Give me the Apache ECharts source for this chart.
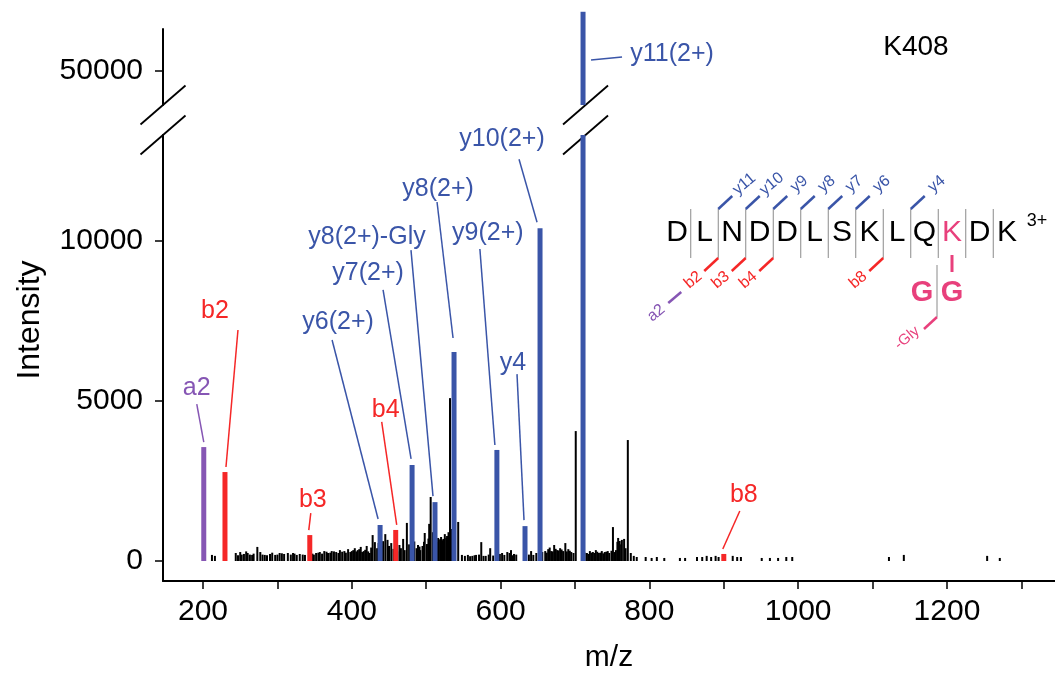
<!DOCTYPE html>
<html>
<head>
<meta charset="utf-8">
<script src="https://cdn.jsdelivr.net/npm/echarts@6/dist/echarts.min.js"></script>
<style>
html, body { margin: 0; padding: 0; background: #fff; }
#chart { width: 1055px; height: 680px; }
</style>
</head>
<body>
<div id="chart"></div>
<script>
// axis ticks
const xTickValues = [200, 300, 400, 500, 600, 700, 800, 900, 1000, 1100, 1200, 1300]
const xLabelValues = [200, 400, 600, 800, 1000, 1200]
const yTicksLower = [0, 5000, 10000]
const yTicksUpper = [50000]

// unassigned peaks [m/z, intensity]
const unassignedPeaks = [
  [212, 190], [216, 160], [244, 250], [247, 180], [250, 280], [252, 200], [255, 220], [258, 300],
  [260, 250], [263, 200], [266, 190], [268, 230], [273, 440], [277, 280], [280, 200], [283, 190],
  [286, 180], [290, 220], [293, 260], [297, 190], [300, 200], [303, 250], [306, 240], [309, 220],
  [314, 250], [318, 200], [321, 250], [323, 230], [326, 190], [330, 220], [334, 200], [337, 190],
  [347, 230], [349, 200], [352, 250], [355, 260], [357, 280], [360, 230], [363, 310], [366, 290],
  [368, 250], [371, 260], [373, 310], [376, 300], [379, 280], [382, 250], [384, 340], [387, 290],
  [390, 310], [392, 260], [395, 370], [398, 280], [400, 310], [402, 340], [404, 400], [406, 300],
  [408, 340], [410, 370], [412, 440], [414, 280], [416, 310], [418, 350], [420, 470], [422, 300],
  [424, 250], [426, 420], [428, 810], [431, 590], [434, 400], [436, 560], [440, 470], [442, 620],
  [445, 840], [448, 660], [450, 470], [453, 560], [456, 380], [461, 300], [464, 500], [466, 400],
  [469, 690], [471, 340], [474, 1190], [477, 520], [484, 610], [487, 400], [489, 500], [491, 450],
  [492, 340], [495, 470], [497, 600], [498, 875], [501, 530], [503, 700], [504, 1160], [506, 2000],
  [509, 900], [514, 600], [516, 720], [517, 660], [519, 690], [520, 750], [522, 650], [523, 690],
  [525, 840], [527, 720], [528, 780], [530, 900], [532, 5090], [534, 1000], [543, 1220], [548, 190],
  [552, 160], [556, 190], [559, 150], [562, 160], [565, 180], [567, 190], [571, 200], [574, 590],
  [577, 160], [580, 160], [584, 200], [586, 400], [590, 170], [599, 220], [602, 250], [605, 190],
  [609, 280], [612, 250], [614, 340], [616, 180], [618, 220], [621, 200], [638, 200], [641, 310],
  [644, 190], [648, 250], [656, 280], [660, 310], [662, 260], [664, 370], [666, 420], [668, 310],
  [670, 300], [672, 500], [674, 380], [676, 340], [678, 330], [680, 400], [682, 360], [684, 310],
  [687, 560], [689, 300], [691, 370], [693, 320], [695, 280], [698, 250], [701, 4060], [710, 200],
  [713, 260], [716, 250], [718, 220], [720, 310], [722, 260], [724, 280], [726, 250], [728, 340],
  [730, 290], [732, 250], [734, 260], [736, 310], [738, 240], [740, 280], [742, 290], [744, 310],
  [746, 250], [749, 320], [751, 1060], [753, 280], [755, 340], [757, 600], [758, 720], [760, 625],
  [762, 520], [763, 660], [766, 690], [768, 400], [771, 3780], [775, 250], [779, 160], [783, 125],
  [795, 125], [803, 95], [810, 125], [820, 95], [841, 95], [848, 95], [864, 125], [871, 125],
  [877, 160], [883, 125], [889, 160], [893, 125], [912, 160], [918, 125], [923, 125], [951, 95],
  [962, 95], [973, 95], [984, 125], [992, 125], [1122, 125], [1142, 190], [1254, 160], [1271, 95]
]

// assigned fragment ions
const yIonNames = ['y6(2+)', 'y7(2+)', 'y8(2+)-Gly', 'y8(2+)', 'y9(2+)', 'y4', 'y10(2+)', 'y11(2+)']
const yIonMz = [438, 481, 511.8, 537.4, 595, 632.8, 653, 710.8]
const yIonInt = [1125, 3000, 1840, 6530, 3470, 1090, 10400, 51850]
const bIonNames = ['b2', 'b3', 'b4', 'b8']
const bIonMz = [229.5, 343.5, 459, 900]
const bIonInt = [2780, 810, 970, 220]
const aIonNames = ['a2']
const aIonMz = [201]
const aIonInt = [3560]

// peptide map
const peptide = ['D', 'L', 'N', 'D', 'D', 'L', 'S', 'K', 'L', 'Q', 'K', 'D', 'K']
const modifiedIndex = 10
const yMapIons = [['y11', 1], ['y10', 2], ['y9', 3], ['y8', 4], ['y7', 5], ['y6', 6], ['y4', 8]]
const bMapIons = [['b2', 1], ['b3', 2], ['b4', 3], ['b8', 7]]

const BLUE = '#3a55a8'
const RED = '#f52727'
const PURPLE = '#8656b4'
const PINK = '#e8407c'
const FONT = '"Liberation Sans", Arial, sans-serif'

// y ranges of the two panels (broken axis)
const lowerMin = -625
const lowerMax = 13312
const upperMin = 48938
const upperMax = 51312
const xMin = 146.2
const xMax = 1345.2

// label position relative to bar top: [labelDx, labelDy, x1, y1, x2, y2]
const labelPos = {
  'a2': [-7, -59, 0, -5, -7, -43],
  'b2': [-10, -161, 1, -5, 13, -142],
  'b3': [3, -35, -1, -5, 1, -22],
  'b4': [-10, -120, 1, -5, -14, -108],
  'b8': [20, -59, -1, -5, 16, -43],
  'y6(2+)': [-42, -203, -2, -6, -48, -185],
  'y7(2+)': [-44, -192, -1, -6, -29, -175],
  'y8(2+)-Gly': [-68, -265, -2, -6, -24, -252],
  'y8(2+)': [-16, -163, -1, -14, -17, -150],
  'y9(2+)': [-9, -217, -2, -5, -17, -201],
  'y4': [-12, -163, -1, -6, -8, -152],
  'y10(2+)': [-38, -89, -3, -6, -21, -69],
  'y11(2+)': [89, -17, 8, -11, 39, -14]
}

const chart = echarts.init(document.getElementById('chart'))

const hiddenX = (grid) => ({
  type: 'value', gridIndex: grid, min: xMin, max: xMax, show: false
})

const plain = (v) => String(v)

function pairs(mz, val) {
  return mz.map((m, i) => [m, val[i]])
}

chart.setOption({
  animation: false,
  grid: [
    { left: 163, right: 0, top: 135, bottom: 99 },
    { left: 163, right: 0, top: 29, height: 76 }
  ],
  xAxis: [
    {
      type: 'value', gridIndex: 0, min: xMin, max: xMax,
      name: 'm/z', nameLocation: 'middle', nameGap: 62,
      nameTextStyle: { fontSize: 30, fontFamily: FONT, color: '#000' },
      splitLine: { show: false },
      axisLine: { onZero: false, lineStyle: { color: '#000', width: 2 } },
      axisTick: { length: 8, customValues: xTickValues, lineStyle: { color: '#000', width: 1.5 } },
      axisLabel: { customValues: xLabelValues, formatter: plain, margin: 16, fontSize: 30, fontFamily: FONT, color: '#000' }
    },
    hiddenX(1),
    hiddenX(0)
  ],
  yAxis: [
    {
      type: 'value', gridIndex: 0, min: lowerMin, max: lowerMax,
      splitLine: { show: false },
      axisLine: { show: true, onZero: false, lineStyle: { color: '#000', width: 2 } },
      axisTick: { show: true, length: 8, customValues: yTicksLower, lineStyle: { color: '#000', width: 1.5 } },
      axisLabel: { customValues: yTicksLower, formatter: plain, margin: 20, fontSize: 30, fontFamily: FONT, color: '#000' }
    },
    {
      type: 'value', gridIndex: 1, min: upperMin, max: upperMax,
      splitLine: { show: false },
      axisLine: { show: true, onZero: false, lineStyle: { color: '#000', width: 2 } },
      axisTick: { show: true, length: 8, customValues: yTicksUpper, lineStyle: { color: '#000', width: 1.5 } },
      axisLabel: { customValues: yTicksUpper, formatter: plain, margin: 20, fontSize: 30, fontFamily: FONT, color: '#000' }
    }
  ],
  series: [
    {
      type: 'bar', xAxisIndex: 0, yAxisIndex: 0, barWidth: 2,
      data: unassignedPeaks, itemStyle: { color: '#000' }
    },
    {
      type: 'bar', xAxisIndex: 2, yAxisIndex: 0, barWidth: 5, barGap: '-100%',
      data: pairs(yIonMz, yIonInt), itemStyle: { color: BLUE }
    },
    {
      type: 'bar', xAxisIndex: 2, yAxisIndex: 0, barWidth: 5, barGap: '-100%',
      data: pairs(bIonMz, bIonInt), itemStyle: { color: RED }
    },
    {
      type: 'bar', xAxisIndex: 2, yAxisIndex: 0, barWidth: 5, barGap: '-100%',
      data: pairs(aIonMz, aIonInt), itemStyle: { color: PURPLE }
    },
    {
      // part of the tallest peak above the axis break
      type: 'custom', xAxisIndex: 1, yAxisIndex: 1, clip: false,
      data: pairs(yIonMz, yIonInt).filter(d => d[1] > upperMin),
      encode: { x: 0, y: 1 },
      renderItem(params, api) {
        const top = api.coord([api.value(0), api.value(1)])
        const base = api.coord([api.value(0), upperMin])
        return {
          type: 'rect',
          shape: { x: top[0] - 2.5, y: top[1], width: 5, height: base[1] - top[1] },
          style: { fill: BLUE }
        }
      }
    }
  ]
})

// ---- annotations, break marks, peptide map ----
const g = []

function txt(x, y, text, size, color, extra, weight) {
  return Object.assign({
    type: 'text', x, y,
    style: {
      text, fill: color, font: (weight ? weight + ' ' : '') + size + 'px ' + FONT,
      align: 'center', verticalAlign: 'middle',
      textAlign: 'center', textVerticalAlign: 'middle'
    }
  }, extra || {})
}

function seg(x1, y1, x2, y2, color, w) {
  return { type: 'line', shape: { x1, y1, x2, y2 }, style: { stroke: color, lineWidth: w || 1.5 } }
}

function annotate(names, mz, val, color) {
  names.forEach((name, i) => {
    let p
    if (val[i] > upperMin) p = chart.convertToPixel({ xAxisIndex: 1, yAxisIndex: 1 }, [mz[i], yTicksUpper[0]])
    else p = chart.convertToPixel({ xAxisIndex: 2, yAxisIndex: 0 }, [mz[i], val[i]])
    const o = labelPos[name]
    g.push(seg(p[0] + o[2], p[1] + o[3], p[0] + o[4], p[1] + o[5], color, 1.5))
    g.push(txt(p[0] + o[0], p[1] + o[1], name, 25, color))
  })
}
annotate(yIonNames, yIonMz, yIonInt, BLUE)
annotate(bIonNames, bIonMz, bIonInt, RED)
annotate(aIonNames, aIonMz, aIonInt, PURPLE)

// break marks on the axis and on the tallest bar
const upperBottom = chart.convertToPixel({ xAxisIndex: 1, yAxisIndex: 1 }, [xMin, upperMin])
const lowerTop = chart.convertToPixel({ xAxisIndex: 0, yAxisIndex: 0 }, [xMin, lowerMax])
const tallMz = yIonMz[yIonInt.indexOf(Math.max(...yIonInt))]
const tallX = chart.convertToPixel({ xAxisIndex: 2, yAxisIndex: 0 }, [tallMz, 0])[0] + 2.5
;[upperBottom[0], tallX].forEach(cx => {
  [upperBottom[1], lowerTop[1]].forEach(cy => {
    g.push(seg(cx - 22.5, cy + 19.5, cx + 22.5, cy - 19.5, '#000', 1.8))
  })
})

// axis title and sample name
g.push(txt(30, 320, 'Intensity', 32, '#000', { rotation: Math.PI / 2 }))
g.push(txt(916, 47, 'K408', 28, '#000'))

// peptide sequence map
const px0 = 677
const step = 27.5
const rowY = 233
peptide.forEach((aa, i) => {
  g.push(txt(px0 + i * step, rowY, aa, 30, i === modifiedIndex ? PINK : '#000'))
  if (i < peptide.length - 1) {
    const sx = px0 + i * step + step / 2
    g.push(seg(sx, 209, sx, 258, '#8a8a8a', 1))
  }
})
g.push(txt(1037, 221, '3+', 18, '#000'))
const rot = Math.PI * 40 / 180
yMapIons.forEach(([name, k]) => {
  const x = px0 + k * step + step / 2
  g.push(seg(x, 209, x + 14, 196, BLUE, 2.5))
  g.push(txt(x + 26, 184, name, 16, BLUE, { rotation: rot }))
})
bMapIons.forEach(([name, k]) => {
  const x = px0 + k * step + step / 2
  g.push(seg(x, 258, x - 14, 271, RED, 2.5))
  g.push(txt(x - 25, 280, name, 16, RED, { rotation: rot }))
  if (name === 'b2') {
    g.push(seg(x - 37, 292, x - 50, 303, PURPLE, 2.5))
    g.push(txt(x - 62, 313, 'a2', 16, PURPLE, { rotation: rot }))
  }
})
// GG remnant on the modified lysine
const kx = px0 + modifiedIndex * step
g.push(seg(kx, 255, kx, 272, PINK, 3))
g.push(txt(kx - 30, 293, 'G', 29, PINK, null, 'bold'))
g.push(txt(kx, 293, 'G', 29, PINK, null, 'bold'))
g.push(seg(kx - 15, 265, kx - 15, 317, '#8a8a8a', 1))
g.push(seg(kx - 15, 317, kx - 28, 329, PINK, 2.5))
g.push(txt(kx - 45, 338, '-Gly', 15, PINK, { rotation: rot }))

chart.setOption({ graphic: { elements: g } })

window.addEventListener('resize', () => chart.resize())
</script>
</body>
</html>
